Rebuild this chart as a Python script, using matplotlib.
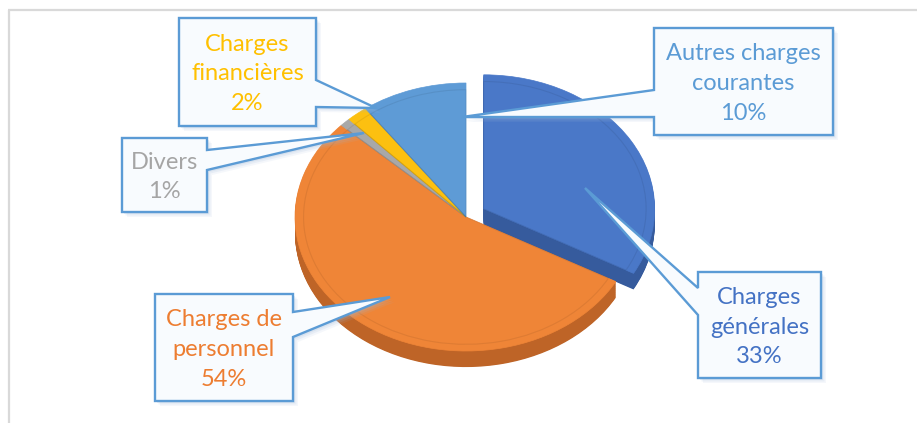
import matplotlib.pyplot as plt
import numpy as np
from matplotlib.colors import to_rgb
from matplotlib.patches import Polygon

# slices, clockwise from 12 o'clock
labels = [
    "Charges\ngénérales",
    "Charges de\npersonnel",
    "Divers",
    "Charges\nfinancières",
    "Autres charges\ncourantes",
]
shares = [33, 54, 1, 2, 10]
colors = ["#4472c4", "#ed7d31", "#a5a5a5", "#ffc000", "#5b9bd5"]
explode = [0.12, 0, 0, 0, 0]

W, H = 917, 423
FONT = "Lato"

# callout layout in pixels (x0, y0, x1, y1), pointer side, base y range, tip
callouts = [
    dict(box=(698, 272, 821, 378), side="left", base=(288, 315), tip=(585, 188)),
    dict(box=(155, 294, 293, 401), side="right", base=(312, 337), tip=(390, 297)),
    dict(box=(122, 138, 207, 212), side="right", base=(150, 170), tip=(364, 133)),
    dict(box=(179, 18, 316, 126), side="right", base=(80, 107), tip=(376, 108)),
    dict(box=(654, 28, 833, 135), side="left", base=(90, 117), tip=(462, 117)),
]


def darker(c, f=0.8):
    r, g, b = to_rgb(c)
    return (r * f, g * f, b * f)


def callout_outline(box, side, base, tip):
    x0, y0, x1, y1 = box
    b0, b1 = base
    if side == "right":
        return [(x0, y0), (x1, y0), (x1, b0), tip, (x1, b1), (x1, y1), (x0, y1)]
    return [(x0, y0), (x1, y0), (x1, y1), (x0, y1), (x0, b1), tip, (x0, b0)]


fig = plt.figure(figsize=(W / 100, H / 100), dpi=100)

# pie axes: 1 unit = rx px across, ry px up
cx, cy, rx, ry = 466, 217, 171, 134
span = 1.5
ax = fig.add_axes([
    (cx - span * rx) / W,
    (H - cy - span * ry) / H,
    2 * span * rx / W,
    2 * span * ry / H,
])

depth = 0.12
side_cols = [darker(c) for c in colors]
for d in np.linspace(depth, 0.005, 24):
    ax.pie(shares, colors=side_cols, startangle=90, counterclock=False,
           explode=explode, center=(0, -d),
           wedgeprops=dict(linewidth=0.6, edgecolor=None))
top_cols = ["#4a78c8", "#ef8537", "#a8a8a8", "#fcc010", "#5e9bd6"]
wedges, _ = ax.pie(shares, colors=top_cols, startangle=90, counterclock=False,
                   explode=explode,
                   wedgeprops=dict(linewidth=0.5))
for w, c in zip(wedges, top_cols):
    w.set_edgecolor(c)
# faint inner bevel line on the top faces
ax.pie(shares, colors=["none"] * 5, startangle=90, counterclock=False,
       explode=explode, radius=0.95,
       wedgeprops=dict(linewidth=0.8, edgecolor=(0, 0, 0, 0.07), fill=False))
ax.set_aspect("auto")
ax.set_xlim(-span, span)
ax.set_ylim(-span, span)
ax.axis("off")

# overlay in pixel coordinates (y down)
ov = fig.add_axes([0, 0, 1, 1])
ov.set_xlim(0, W)
ov.set_ylim(H, 0)
ov.axis("off")
ov.patch.set_alpha(0)

ov.plot([8, W], [10, 10], color="#d9d9d9", lw=1.6, solid_capstyle="butt")
ov.plot([8.5, 8.5], [10, H], color="#d9d9d9", lw=1.6, solid_capstyle="butt")

for lab, share, col, co in zip(labels, shares, colors, callouts):
    pts = callout_outline(co["box"], co["side"], co["base"], co["tip"])
    for k, a in [(5, 0.10), (3.5, 0.15), (2, 0.2)]:
        sh = [(x + k, y + k) for x, y in pts]
        ov.add_patch(Polygon(sh, closed=True, facecolor="#9db8d9",
                             edgecolor="none", alpha=a))
    ov.add_patch(Polygon(pts, closed=True, facecolor="#f8fbfe",
                         edgecolor="#5b9bd5", lw=1.7, joinstyle="miter"))
    x0, y0, x1, y1 = co["box"]
    ov.text((x0 + x1) / 2, (y0 + y1) / 2 + 2, f"{lab}\n{share}%",
            ha="center", va="center", color=col, fontsize=17,
            family=FONT, linespacing=1.5)

fig.savefig("out.png", dpi=100)
